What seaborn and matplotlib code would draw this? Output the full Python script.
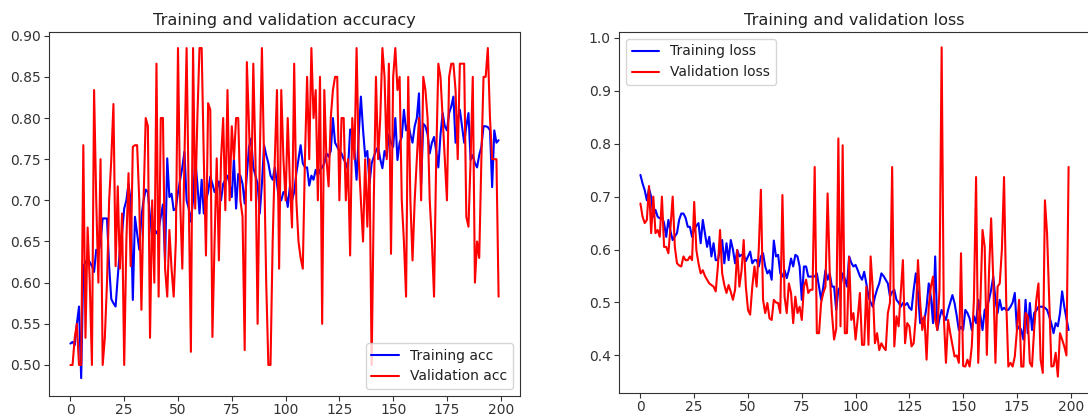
import numpy as np
import pandas as pd
import matplotlib
matplotlib.use("Agg")
import matplotlib.pyplot as plt
import seaborn as sns

# Per-epoch training history (200 epochs)
train_acc = [
    0.526, 0.528, 0.524, 0.550, 0.571, 0.484, 0.620, 0.625, 0.628, 0.625,
    0.620, 0.613, 0.640, 0.636, 0.650, 0.678, 0.678, 0.678, 0.620, 0.580,
    0.575, 0.571, 0.607, 0.640, 0.660, 0.690, 0.700, 0.720, 0.700, 0.579,
    0.680, 0.660, 0.640, 0.680, 0.700, 0.713, 0.710, 0.680, 0.655, 0.665,
    0.660, 0.665, 0.680, 0.695, 0.625, 0.751, 0.704, 0.708, 0.688, 0.690,
    0.710, 0.725, 0.740, 0.759, 0.700, 0.690, 0.674, 0.700, 0.751, 0.720,
    0.684, 0.725, 0.684, 0.700, 0.710, 0.729, 0.720, 0.710, 0.715, 0.723,
    0.700, 0.720, 0.725, 0.730, 0.720, 0.704, 0.751, 0.690, 0.732, 0.730,
    0.720, 0.696, 0.730, 0.765, 0.775, 0.740, 0.730, 0.720, 0.684, 0.720,
    0.767, 0.755, 0.745, 0.730, 0.725, 0.740, 0.720, 0.700, 0.700, 0.710,
    0.710, 0.692, 0.717, 0.700, 0.710, 0.733, 0.750, 0.767, 0.745, 0.740,
    0.740, 0.718, 0.730, 0.725, 0.737, 0.730, 0.737, 0.740, 0.745, 0.757,
    0.753, 0.760, 0.800, 0.770, 0.765, 0.760, 0.757, 0.750, 0.745, 0.737,
    0.786, 0.786, 0.760, 0.725, 0.780, 0.826, 0.786, 0.753, 0.760, 0.720,
    0.745, 0.753, 0.760, 0.765, 0.750, 0.739, 0.760, 0.753, 0.780, 0.770,
    0.765, 0.800, 0.749, 0.770, 0.777, 0.810, 0.785, 0.793, 0.780, 0.770,
    0.790, 0.800, 0.830, 0.720, 0.793, 0.790, 0.780, 0.757, 0.770, 0.777,
    0.760, 0.740, 0.780, 0.806, 0.790, 0.785, 0.806, 0.814, 0.826, 0.770,
    0.798, 0.810, 0.790, 0.770, 0.790, 0.806, 0.749, 0.755, 0.745, 0.740,
    0.755, 0.765, 0.790, 0.790, 0.789, 0.785, 0.716, 0.785, 0.770, 0.773,
]

val_acc = [
    0.500, 0.500, 0.533, 0.550, 0.500, 0.500, 0.767, 0.533, 0.667, 0.600,
    0.500, 0.834, 0.700, 0.600, 0.750, 0.500, 0.533, 0.600, 0.700, 0.750,
    0.817, 0.620, 0.717, 0.617, 0.684, 0.500, 0.650, 0.733, 0.620, 0.765,
    0.767, 0.767, 0.700, 0.567, 0.700, 0.800, 0.790, 0.533, 0.700, 0.600,
    0.866, 0.583, 0.800, 0.800, 0.617, 0.583, 0.664, 0.617, 0.583, 0.650,
    0.885, 0.700, 0.617, 0.750, 0.885, 0.700, 0.516, 0.885, 0.690, 0.800,
    0.885, 0.885, 0.750, 0.633, 0.818, 0.810, 0.534, 0.650, 0.751, 0.627,
    0.750, 0.800, 0.688, 0.834, 0.700, 0.790, 0.750, 0.800, 0.800, 0.700,
    0.680, 0.518, 0.868, 0.790, 0.700, 0.866, 0.750, 0.550, 0.750, 0.885,
    0.750, 0.600, 0.500, 0.500, 0.650, 0.750, 0.834, 0.617, 0.834, 0.750,
    0.700, 0.800, 0.720, 0.667, 0.866, 0.700, 0.650, 0.630, 0.617, 0.750,
    0.850, 0.750, 0.885, 0.800, 0.834, 0.700, 0.850, 0.550, 0.834, 0.750,
    0.717, 0.800, 0.834, 0.850, 0.850, 0.700, 0.800, 0.800, 0.700, 0.750,
    0.633, 0.800, 0.750, 0.885, 0.750, 0.700, 0.650, 0.750, 0.668, 0.750,
    0.500, 0.700, 0.850, 0.750, 0.800, 0.885, 0.850, 0.750, 0.866, 0.635,
    0.850, 0.885, 0.834, 0.850, 0.700, 0.650, 0.583, 0.850, 0.700, 0.627,
    0.700, 0.750, 0.800, 0.700, 0.850, 0.834, 0.800, 0.700, 0.650, 0.583,
    0.750, 0.866, 0.850, 0.800, 0.750, 0.700, 0.850, 0.866, 0.866, 0.834,
    0.750, 0.866, 0.866, 0.866, 0.680, 0.668, 0.750, 0.850, 0.600, 0.650,
    0.630, 0.750, 0.850, 0.850, 0.885, 0.800, 0.750, 0.750, 0.750, 0.583,
]

train_loss = [
    0.741, 0.725, 0.712, 0.693, 0.715, 0.700, 0.662, 0.675, 0.662, 0.659,
    0.662, 0.650, 0.624, 0.656, 0.634, 0.618, 0.625, 0.631, 0.656, 0.668,
    0.668, 0.660, 0.643, 0.643, 0.624, 0.637, 0.645, 0.650, 0.612, 0.656,
    0.631, 0.605, 0.624, 0.587, 0.612, 0.580, 0.580, 0.600, 0.618, 0.574,
    0.612, 0.580, 0.618, 0.600, 0.574, 0.599, 0.587, 0.590, 0.590, 0.578,
    0.587, 0.596, 0.574, 0.580, 0.580, 0.568, 0.587, 0.593, 0.568, 0.555,
    0.561, 0.543, 0.617, 0.587, 0.590, 0.555, 0.549, 0.561, 0.546, 0.561,
    0.583, 0.568, 0.590, 0.587, 0.568, 0.505, 0.568, 0.568, 0.549, 0.549,
    0.549, 0.549, 0.555, 0.530, 0.505, 0.530, 0.561, 0.543, 0.555, 0.530,
    0.530, 0.486, 0.524, 0.530, 0.555, 0.545, 0.530, 0.587, 0.575, 0.568,
    0.571, 0.561, 0.550, 0.543, 0.558, 0.536, 0.511, 0.500, 0.492, 0.511,
    0.525, 0.536, 0.555, 0.550, 0.543, 0.536, 0.511, 0.520, 0.524, 0.505,
    0.500, 0.492, 0.499, 0.495, 0.499, 0.490, 0.486, 0.524, 0.555, 0.518,
    0.461, 0.470, 0.467, 0.492, 0.536, 0.511, 0.461, 0.587, 0.448, 0.470,
    0.486, 0.475, 0.467, 0.486, 0.500, 0.514, 0.499, 0.475, 0.448, 0.454,
    0.448, 0.486, 0.480, 0.470, 0.448, 0.474, 0.461, 0.505, 0.475, 0.448,
    0.486, 0.490, 0.505, 0.524, 0.549, 0.505, 0.480, 0.505, 0.486, 0.490,
    0.486, 0.486, 0.492, 0.500, 0.518, 0.448, 0.455, 0.448, 0.430, 0.505,
    0.442, 0.499, 0.448, 0.480, 0.485, 0.492, 0.492, 0.492, 0.490, 0.486,
    0.474, 0.460, 0.442, 0.461, 0.455, 0.480, 0.521, 0.492, 0.470, 0.448,
]

val_loss = [
    0.687, 0.662, 0.650, 0.656, 0.720, 0.631, 0.700, 0.631, 0.637, 0.624,
    0.700, 0.605, 0.605, 0.593, 0.643, 0.700, 0.605, 0.574, 0.570, 0.568,
    0.587, 0.580, 0.580, 0.587, 0.580, 0.690, 0.599, 0.574, 0.555, 0.561,
    0.550, 0.543, 0.536, 0.533, 0.530, 0.521, 0.568, 0.637, 0.555, 0.533,
    0.518, 0.533, 0.520, 0.505, 0.524, 0.599, 0.530, 0.560, 0.618, 0.530,
    0.486, 0.477, 0.530, 0.568, 0.530, 0.600, 0.713, 0.505, 0.480, 0.499,
    0.470, 0.467, 0.505, 0.500, 0.499, 0.480, 0.703, 0.511, 0.480, 0.536,
    0.518, 0.461, 0.511, 0.480, 0.492, 0.467, 0.530, 0.543, 0.518, 0.524,
    0.524, 0.756, 0.442, 0.442, 0.500, 0.518, 0.530, 0.706, 0.555, 0.480,
    0.430, 0.450, 0.810, 0.455, 0.797, 0.442, 0.442, 0.586, 0.467, 0.480,
    0.430, 0.470, 0.518, 0.420, 0.420, 0.530, 0.420, 0.587, 0.524, 0.423,
    0.442, 0.410, 0.423, 0.415, 0.410, 0.480, 0.500, 0.756, 0.417, 0.474,
    0.455, 0.518, 0.580, 0.423, 0.461, 0.455, 0.417, 0.423, 0.474, 0.580,
    0.500, 0.448, 0.474, 0.392, 0.492, 0.530, 0.549, 0.467, 0.448, 0.524,
    0.982, 0.474, 0.386, 0.467, 0.442, 0.420, 0.398, 0.400, 0.386, 0.593,
    0.380, 0.379, 0.392, 0.379, 0.417, 0.505, 0.737, 0.386, 0.500, 0.637,
    0.605, 0.401, 0.555, 0.659, 0.543, 0.386, 0.530, 0.536, 0.600, 0.737,
    0.505, 0.379, 0.386, 0.379, 0.398, 0.448, 0.505, 0.379, 0.379, 0.480,
    0.474, 0.386, 0.379, 0.450, 0.505, 0.536, 0.392, 0.367, 0.693, 0.630,
    0.505, 0.379, 0.380, 0.405, 0.360, 0.442, 0.430, 0.417, 0.400, 0.756,
]

epochs = np.arange(len(train_acc))

sns.set_style("ticks")
plt.rcParams["font.family"] = ["DejaVu Sans"]
plt.rcParams["axes.edgecolor"] = "#333333"
plt.rcParams["xtick.color"] = "#333333"
plt.rcParams["ytick.color"] = "#333333"
plt.rcParams["text.color"] = "#222222"

fig = plt.figure(figsize=(10.88, 4.16), dpi=100)
ax1 = fig.add_axes([49 / 1088, 20 / 416, 471 / 1088, 364 / 416])
ax2 = fig.add_axes([619 / 1088, 23 / 416, 471 / 1088, 361 / 416])

acc_df = pd.DataFrame({"epoch": epochs, "train": train_acc, "val": val_acc})
loss_df = pd.DataFrame({"epoch": epochs, "train": train_loss, "val": val_loss})

sns.lineplot(data=acc_df, x="epoch", y="train", color="b", label="Training acc", ax=ax1, linewidth=1.5)
sns.lineplot(data=acc_df, x="epoch", y="val", color="r", label="Validation acc", ax=ax1, linewidth=1.5)
ax1.set_title("Training and validation accuracy", fontsize=11.6, pad=5)
ax1.legend(loc="lower right", fontsize=10)

sns.lineplot(data=loss_df, x="epoch", y="train", color="b", label="Training loss", ax=ax2, linewidth=1.5)
sns.lineplot(data=loss_df, x="epoch", y="val", color="r", label="Validation loss", ax=ax2, linewidth=1.5)
ax2.set_title("Training and validation loss", fontsize=11.6, pad=5)
ax2.legend(loc="upper left", fontsize=10)

for ax in (ax1, ax2):
    ax.set_xlabel("")
    ax.set_ylabel("")
    ax.set_xticks([0, 25, 50, 75, 100, 125, 150, 175, 200])
    ax.tick_params(labelsize=10, length=3.5, width=0.8)
    ax.tick_params(axis="x", pad=1.5)
    ax.tick_params(axis="y", pad=2.5)

ax1.set_ylim(0.4623, 0.9045)
ax2.set_ylim(0.329, 1.011)
ax2.set_yticks([0.4, 0.5, 0.6, 0.7, 0.8, 0.9, 1.0])
ax1.set_yticks([0.50, 0.55, 0.60, 0.65, 0.70, 0.75, 0.80, 0.85, 0.90])
ax1.set_yticklabels([f"{v:.2f}" for v in ax1.get_yticks()])
ax2.set_yticklabels([f"{v:.1f}" for v in ax2.get_yticks()])

fig.savefig("out.png", dpi=100)
